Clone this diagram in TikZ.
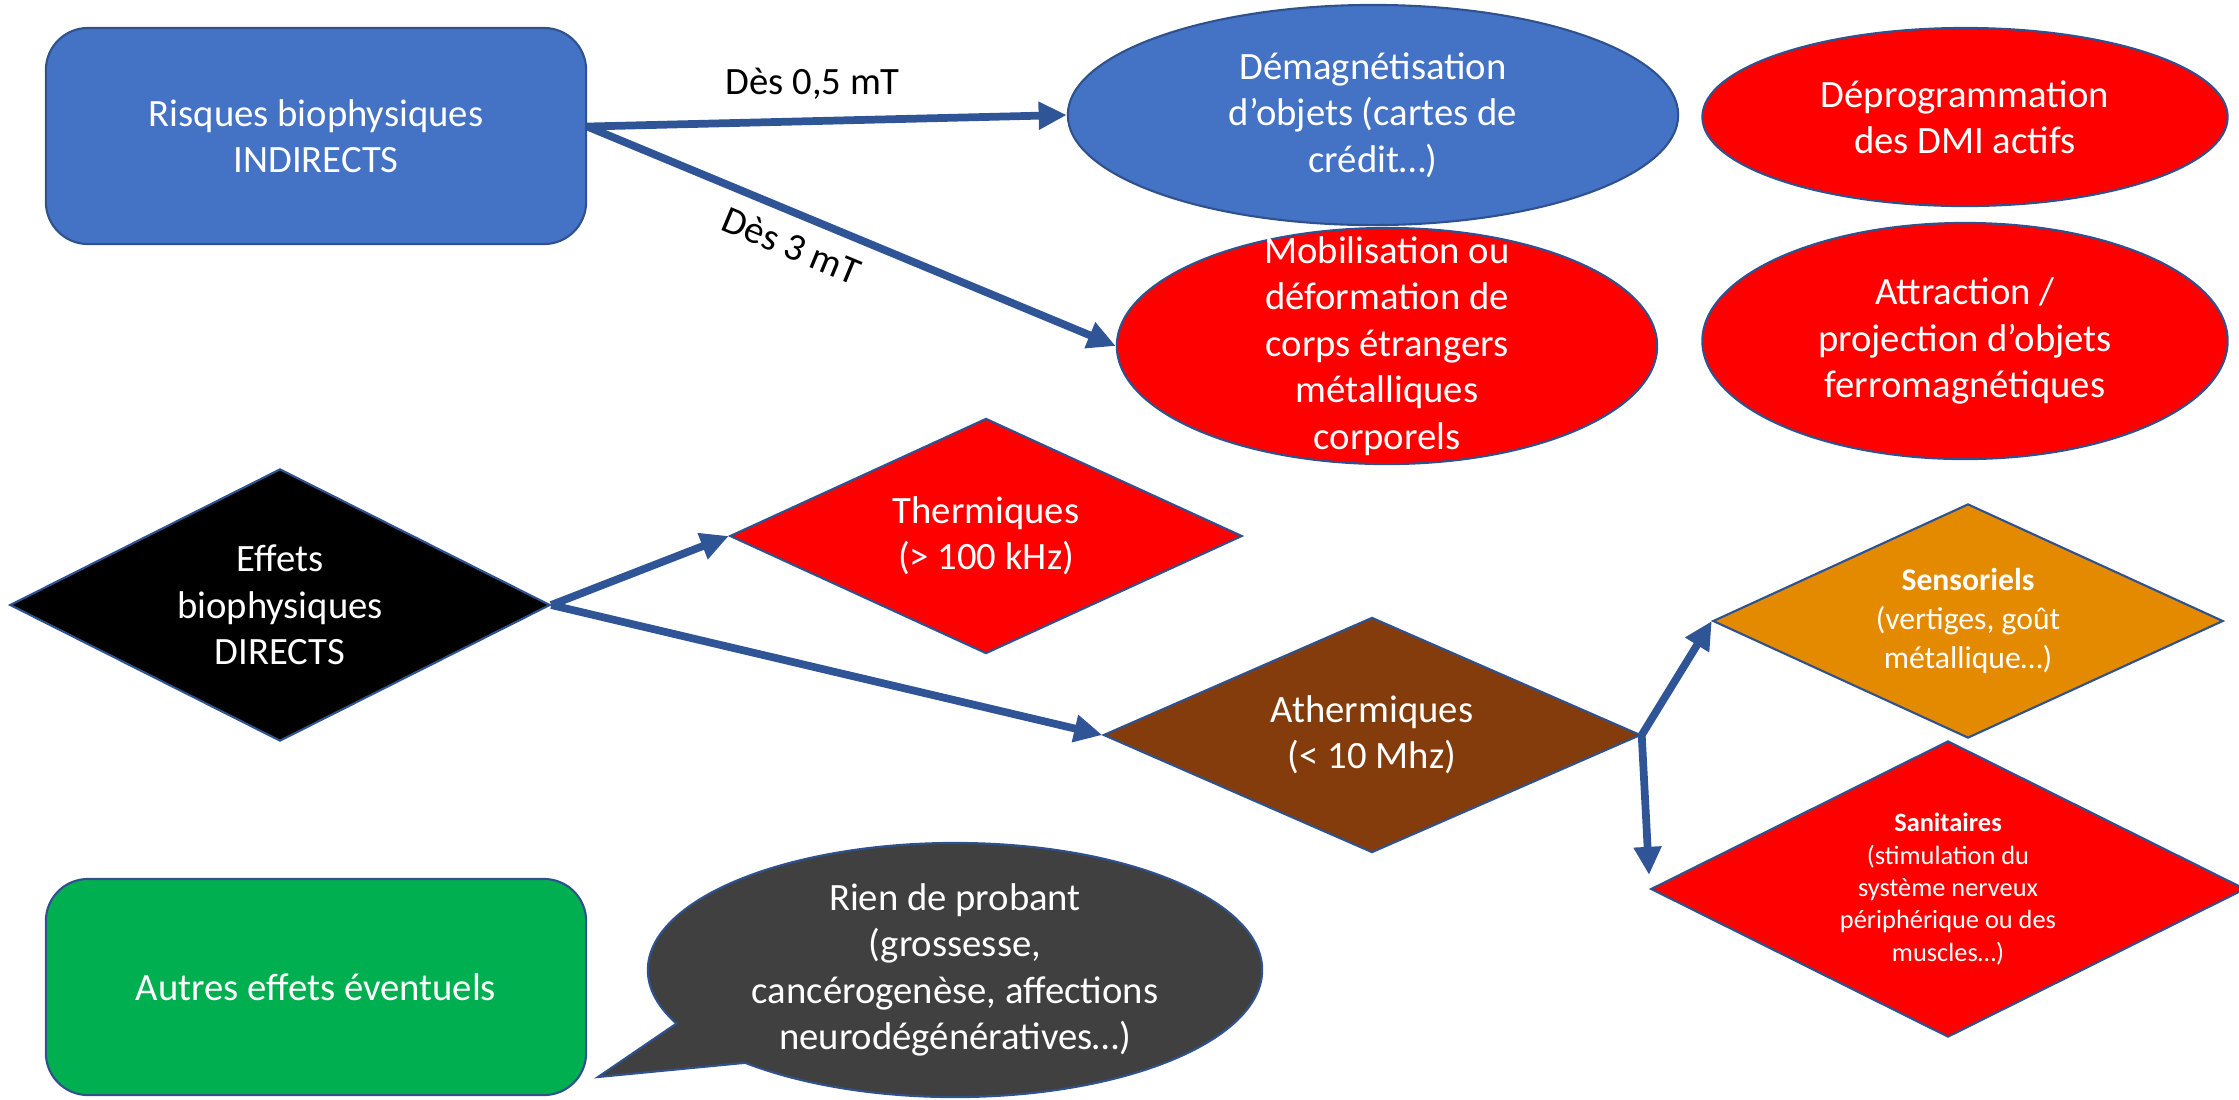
\documentclass[tikz,border=0pt]{standalone}
\usepackage{fontspec}
\setmainfont{Carlito}
\usetikzlibrary{shapes.geometric,shapes.callouts,arrows.meta}

\definecolor{bleu}{HTML}{4472C4}
\definecolor{bleuf}{HTML}{2F5597}
\definecolor{contour}{HTML}{2F528F}
\definecolor{rouge}{HTML}{FF0000}
\definecolor{brun}{HTML}{843C0C}
\definecolor{orangef}{HTML}{E48A00}
\definecolor{vert}{HTML}{00B050}
\definecolor{gris}{HTML}{404040}

\begin{document}
\begin{tikzpicture}
  [x=0.01cm,y=-0.01cm,
   every node/.style={text=white,align=center,inner sep=0pt,font=\fontsize{11}{13.2}\selectfont},
   forme/.style={draw=contour,line width=0.6pt},
   boite/.style={forme,rectangle,rounded corners=12pt,minimum width=5.4cm,minimum height=2.16cm},
   ovale/.style={forme,ellipse},
   losange/.style={forme,diamond,shape aspect=2},
   fleche/.style={draw=bleuf,line width=2.2pt,-{Triangle[length=8pt,width=7.5pt]}},
   seuil/.style={text=black,inner sep=3pt}]

  \useasboundingbox (0,0) rectangle (2239,1099);

  % risques indirects
  \node[boite,fill=bleu] (risq) at (316,136) {Risques biophysiques\\INDIRECTS};
  \node[ovale,fill=bleu,minimum width=6.1cm,minimum height=2.2cm] (demag) at (1373,115) {Démagnétisation\\d’objets (cartes de\\crédit…)};
  \node[ovale,fill=rouge,minimum width=5.25cm,minimum height=1.78cm] (deprog) at (1965,117) {Déprogrammation\\des DMI actifs};
  \node[ovale,fill=rouge,minimum width=5.4cm,minimum height=2.36cm,
        label={center:Mobilisation ou\\déformation de\\corps étrangers\\métalliques\\corporels}] (mobil) at (1387,346) {};
  \node[ovale,fill=rouge,minimum width=5.25cm,minimum height=2.36cm] (attr) at (1965,341) {Attraction /\\projection d’objets\\ferromagnétiques};

  % effets directs
  \node[losange,fill=black,minimum width=5.4cm,minimum height=2.72cm] (effets) at (280,605) {Effets\\biophysiques\\DIRECTS};
  \node[losange,fill=rouge,minimum width=5.12cm,minimum height=2.35cm] (therm) at (986,536) {Thermiques\\(> 100 kHz)};
  \node[losange,fill=brun,minimum width=5.37cm,minimum height=2.35cm] (atherm) at (1372,735) {Athermiques\\(< 10 Mhz)};
  \node[losange,fill=orangef,minimum width=5.1cm,minimum height=2.34cm,font=\fontsize{9}{11}\selectfont] (senso) at (1968,621) {\textbf{Sensoriels}\\(vertiges, goût\\métallique…)};
  \node[losange,fill=rouge,minimum width=5.94cm,minimum height=2.96cm,font=\fontsize{7.5}{9.2}\selectfont] (sani) at (1948,889) {\textbf{Sanitaires}\\(stimulation du\\système nerveux\\périphérique ou des\\muscles…)};

  % autres effets
  \node[boite,fill=vert] (autres) at (316,987) {Autres effets éventuels};
  \coordinate (pointe) at (598,1077);
  \node[ovale,ellipse callout,fill=gris,minimum width=6.14cm,minimum height=2.54cm,
        callout absolute pointer={(pointe)},callout pointer arc=22] (rien) at (955,970)
        {Rien de probant\\(grossesse,\\cancérogenèse, affections\\neurodégénératives…)};

  \draw[fleche] (risq.2) -- node[seuil,pos=0.47,above=2pt] {Dès 0,5 mT} (demag.west);
  \draw[fleche] (risq.2) -- node[seuil,pos=0.41,below=1pt,sloped] {Dès 3 mT} (mobil.west);
  \foreach \de/\vers in {effets.east/therm.west,effets.east/atherm.west,atherm.east/senso.west}
    \draw[fleche] (\de) -- (\vers);
  \draw[fleche,shorten >=4pt] (atherm.east) -- (sani.west);
\end{tikzpicture}
\end{document}
